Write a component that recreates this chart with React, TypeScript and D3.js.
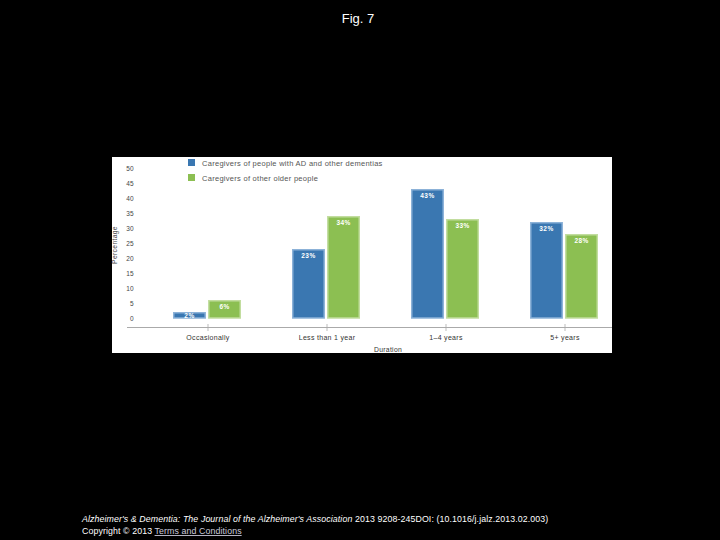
import React from "react";
import * as d3 from "d3";

const categories = ["Occasionally", "Less than 1 year", "1–4 years", "5+ years"];
const seriesNames = ["Caregivers of people with AD and other dementias", "Caregivers of other older people"];
const adValues = [2, 23, 43, 32];
const otherValues = [6, 34, 33, 28];
const yTicks = [0, 5, 10, 15, 20, 25, 30, 35, 40, 45, 50];

const fills = ["#3a77b1", "#8cbf52"];
const strokes = ["#8cb2d8", "#c2dd9f"];

export default function App() {
  const W = 720, H = 540;
  const y = d3.scaleLinear().domain([0, 50]).range([318, 168]);
  const x = d3.scaleBand<string>().domain(categories).range([148.5, 624.5]).padding(0);
  const inner = d3.scaleBand<number>().domain([0, 1]).range([-35, 33]).paddingInner(0.06).paddingOuter(0);
  const series = [adValues, otherValues];
  const font = "Liberation Sans, Arial, sans-serif";

  return (
    <div style={{ position: "fixed", left: 0, top: 0, width: W, height: H, background: "#000" }}>
      <svg width={W} height={H} style={{ display: "block" }} fontFamily={font}>
        <rect x={0} y={0} width={W} height={H} fill="#000" />
        <text x={358} y={23} textAnchor="middle" fill="#fff" fontSize={13}>Fig. 7</text>
        <rect x={112} y={157} width={500} height={196} fill="#fff" />
        {yTicks.map((t) => (
          <text key={t} x={134} y={y(t) + 2.5} textAnchor="end" fontSize={6.5} letterSpacing={0.3} fill="#444">{t}</text>
        ))}
        <text transform={`translate(117,245) rotate(-90)`} textAnchor="middle" fontSize={6.8} letterSpacing={0.3} fill="#444">Percentage</text>
        <line x1={127} x2={612} y1={327.5} y2={327.5} stroke="#aaa" strokeWidth={1} />
        {categories.map((c) => {
          const cx = (x(c) as number) + x.bandwidth() / 2;
          return (
            <g key={c}>
              <line x1={cx} x2={cx} y1={324} y2={331} stroke="#aaa" strokeWidth={0.8} />
              <text x={cx} y={340} textAnchor="middle" fontSize={7} letterSpacing={0.3} fill="#333">{c}</text>
            </g>
          );
        })}
        <text x={388} y={352} textAnchor="middle" fontSize={6.8} letterSpacing={0.3} fill="#333">Duration</text>
        {series.map((vals, si) =>
          vals.map((v, ci) => {
            const cx = (x(categories[ci]) as number) + x.bandwidth() / 2;
            const bx = cx + (inner(si) as number);
            const bw = inner.bandwidth();
            const top = y(v);
            const h = y(0) - top;
            return (
              <g key={`${si}-${ci}`}>
                <rect x={bx + 0.75} y={top + 0.75} width={bw - 1.5} height={h - 0.75} fill={fills[si]} stroke={strokes[si]} strokeWidth={1.5} />
                <text x={bx + bw / 2} y={Math.min(top + 8.5, 317.5)} textAnchor="middle" fontSize={6.5} letterSpacing={0.4} fill="#fff" fontWeight="bold">{v}%</text>
              </g>
            );
          })
        )}
        {seriesNames.map((s, i) => (
          <g key={s}>
            <rect x={188} y={159 + i * 15} width={7} height={7} fill={fills[i]} />
            <text x={202} y={165.5 + i * 15} fontSize={7.5} letterSpacing={0.28} fill="#555">{s}</text>
          </g>
        ))}
        <text x={82} y={522} fontSize={8.8} letterSpacing={0.1} fill="#fff">
          <tspan fontStyle="italic">Alzheimer's &amp; Dementia: The Journal of the Alzheimer's Association</tspan>
          <tspan> 2013 9208-245DOI: (10.1016/j.jalz.2013.02.003)</tspan>
        </text>
        <text x={82} y={534} fontSize={8.8} letterSpacing={0.1} fill="#fff">
          <tspan>Copyright © 2013 </tspan>
          <tspan textDecoration="underline" fill="#ccd">Terms and Conditions</tspan>
        </text>
      </svg>
    </div>
  );
}
